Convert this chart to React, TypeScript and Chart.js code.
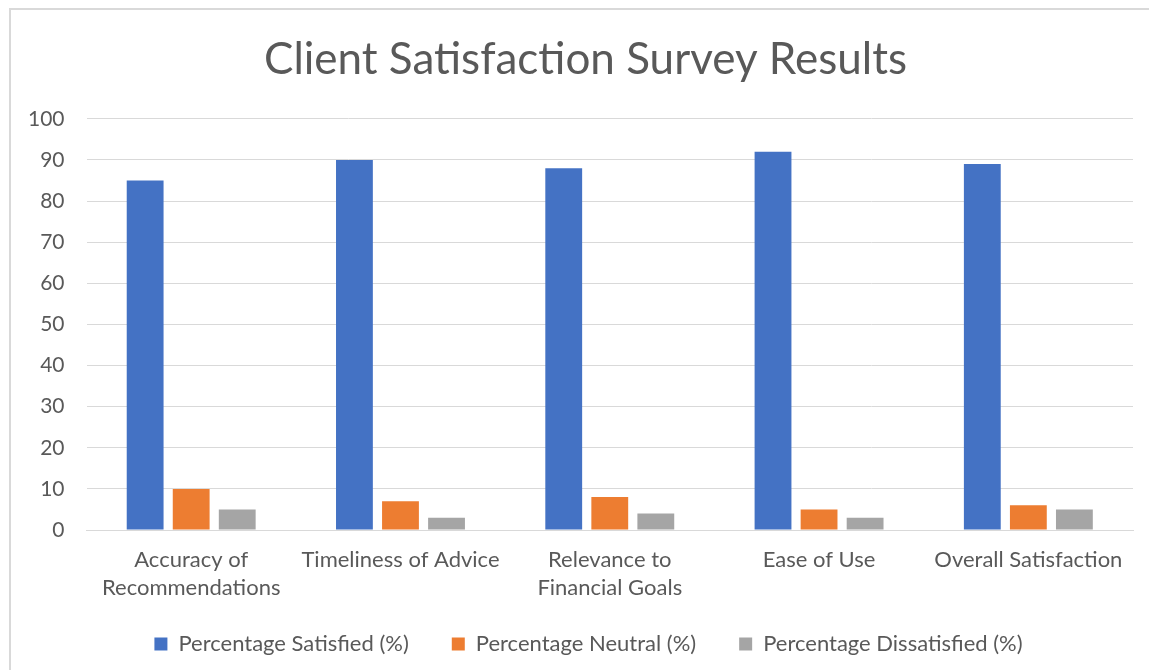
import React, { useEffect, useRef } from "react";
import { Chart, registerables } from "chart.js";

Chart.register(...registerables);

const title = "Client Satisfaction Survey Results";
const categories: string[][] = [
  ["Accuracy of", "Recommendations"],
  ["Timeliness of Advice"],
  ["Relevance to", "Financial Goals"],
  ["Ease of Use"],
  ["Overall Satisfaction"],
];
const seriesNames = [
  "Percentage Satisfied (%)",
  "Percentage Neutral (%)",
  "Percentage Dissatisfied (%)",
];
const satisfied = [85, 90, 88, 92, 89];
const neutral = [10, 7, 8, 5, 6];
const dissatisfied = [5, 3, 4, 3, 5];
const yMin = 0;
const yMax = 100;
const yStep = 10;

const colors = ["#4472C4", "#ED7D31", "#A5A5A5"];
const textColor = "#595959";
const gridColor = "#D9D9D9";
const fontFamily = "Lato, 'Open Sans', sans-serif";

// The original chart frame extends past the right edge of the screenshot,
// so its title and legend are centred a little to the right of the canvas centre.
const blockShiftPlugin = {
  id: "blockShift",
  afterLayout(chart: any) {
    const xs = chart.scales.x;
    if (xs) {
      xs.bottom = xs.top + 95;
    }
    const t = chart.titleBlock;
    if (t) {
      t.left += 16;
      t.right += 16;
    }
    const l = chart.legend;
    if (l) {
      l.left += 19;
      l.right += 19;
    }
  },
};

export default function App() {
  const canvasRef = useRef<HTMLCanvasElement | null>(null);

  useEffect(() => {
    if (!canvasRef.current) return;
    const values = [satisfied, neutral, dissatisfied];
    const chart = new Chart(canvasRef.current, {
      type: "bar",
      data: {
        labels: categories,
        datasets: seriesNames.map((name, i) => ({
          label: name,
          data: values[i],
          backgroundColor: colors[i],
          borderWidth: 0,
          categoryPercentage: 0.66,
          barPercentage: 0.8,
        })),
      },
      plugins: [blockShiftPlugin],
      options: {
        responsive: false,
        animation: false,
        maintainAspectRatio: false,
        layout: { padding: { left: 6, right: 16, top: 33, bottom: 5 } },
        plugins: {
          title: {
            display: true,
            text: title,
            color: textColor,
            font: { family: fontFamily, size: 44, weight: "normal" },
            padding: { top: 0, bottom: 33 },
          },
          legend: {
            position: "bottom",
            maxHeight: 78,
            labels: {
              color: textColor,
              font: { family: fontFamily, size: 22 },
              boxWidth: 13,
              boxHeight: 13,
              padding: 43,
            },
          },
          tooltip: { enabled: false },
        },
        scales: {
          x: {
            grid: { display: false, drawTicks: false },
            border: { display: true, color: gridColor, width: 1 },
            afterFit: (scale: any) => {
              scale.height = 60;
            },
            ticks: {
              color: textColor,
              font: { family: fontFamily, size: 22, lineHeight: 1.27 },
              padding: 16,
              maxRotation: 0,
              autoSkip: false,
            },
          },
          y: {
            min: yMin,
            max: yMax,
            grid: { color: gridColor, lineWidth: 1, drawTicks: false },
            border: { display: false },
            ticks: {
              stepSize: yStep,
              color: textColor,
              font: { family: fontFamily, size: 21 },
              padding: 22,
            },
          },
        },
      },
    });
    return () => chart.destroy();
  }, []);

  return (
    <div
      style={{
        position: "fixed",
        left: 0,
        top: 0,
        width: 1149,
        height: 670,
        background: "#ffffff",
        overflow: "hidden",
      }}
    >
      <div
        style={{
          position: "absolute",
          left: 9,
          top: 8,
          width: 1200,
          height: 700,
          border: "2px solid #D9D9D9",
          boxSizing: "border-box",
        }}
      />
      <canvas
        ref={canvasRef}
        width={1149}
        height={670}
        style={{ position: "absolute", left: 0, top: 0 }}
      />
    </div>
  );
}
